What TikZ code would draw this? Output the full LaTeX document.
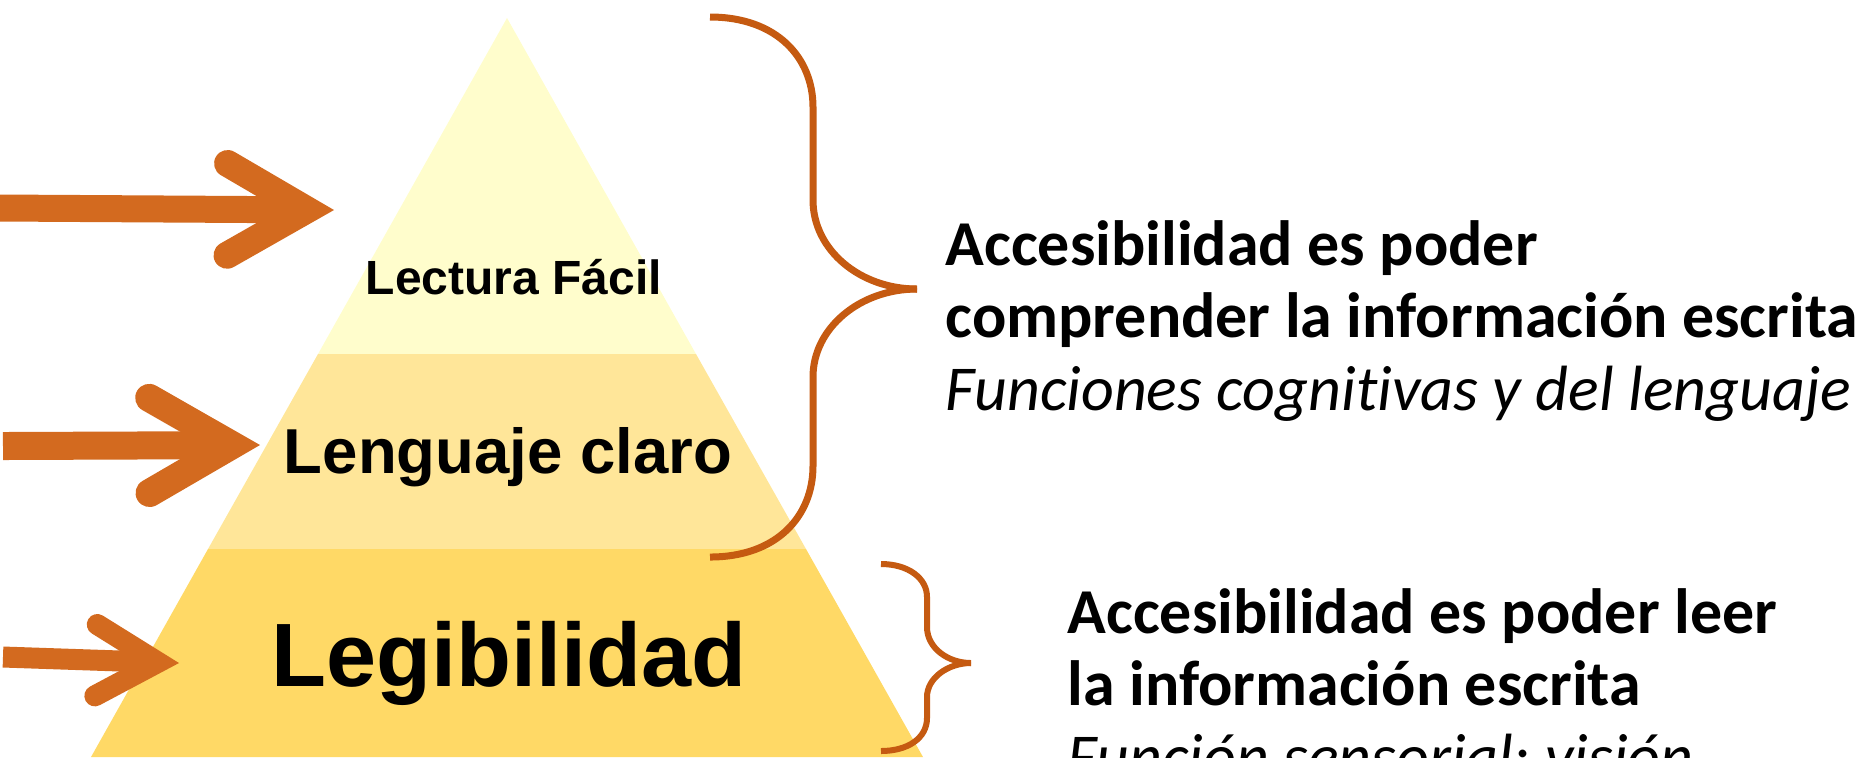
\documentclass[tikz,border=0pt]{standalone}
\usepackage{fontspec}
\setmainfont{Carlito}[Ligatures=NoCommon]
\newfontfamily\pyrfont{Liberation Sans}
\usetikzlibrary{arrows.meta}
\definecolor{arrowor}{HTML}{D36A1F}
\definecolor{braceor}{HTML}{C55A11}
\definecolor{lecturay}{HTML}{FFFDCC}
\definecolor{lenguajey}{HTML}{FFE699}
\definecolor{legiby}{HTML}{FFD966}
\frenchspacing
\tikzset{
  pointer/.style={draw=arrowor,line width=#1,
    -{Straight Barb[length=0pt 2.95,width=0pt 3.4,line cap=round,line join=miter]}},
  bracket/.style={draw=braceor,line width=#1},
  level/.style={anchor=base,inner sep=0pt,font=\pyrfont\bfseries\fontsize{#1}{#1}\selectfont},
  note/.style={anchor=base west,inner sep=0pt,align=left,
    font=\fontsize{18.2pt}{20.6pt}\selectfont}
}
\begin{document}
\begin{tikzpicture}[x=0.1mm,y=-0.1mm]
	\useasboundingbox (0,0) rectangle (1863,757);
	% pyramid
	\fill[lecturay] (507,18) -- (696,354) -- (318,354) -- cycle;
	\fill[lenguajey] (318,354) -- (696,354) -- (806,549) -- (208,549) -- cycle;
	\fill[legiby] (208,549) -- (806,549) -- (923,757) -- (91,757) -- cycle;
	\node[level=13.66pt] (lectura) at (514,294) {Lectura Fácil};
	\node[level=18.07pt] (lenguaje) at (508,473) {Lenguaje claro};
	\node[level=25.6pt] (legib) at (509,686) {Legibilidad};
	% arrows
	\coordinate (tailA) at (0,208);
	\coordinate (tipA) at (334,210);
	\coordinate (tailB) at (3,446);
	\coordinate (tipB) at (260,445);
	\coordinate (tailC) at (3,657);
	\coordinate (tipC) at (179,663);
	\draw[pointer=2.7mm] (tailA) -- (tipA);
	\draw[pointer=2.8mm] (tailB) -- (tipB);
	\draw[pointer=2.1mm] (tailC) -- (tipC);
	% braces
	\draw[bracket=0.7mm] (710,17) .. controls (777,17) and (813,58) .. (813,107) -- (813,200)
		.. controls (813,250) and (860,289) .. (917,289);
	\draw[bracket=0.7mm] (917,289) .. controls (860,289) and (813,328) .. (813,377) -- (813,466)
		.. controls (813,516) and (777,557) .. (710,557);
	\draw[bracket=0.6mm] (881,564) .. controls (908,564) and (927,578) .. (927,597) -- (927,627)
		.. controls (927,648) and (948,663) .. (971,663);
	\draw[bracket=0.6mm] (971,663) .. controls (948,663) and (927,678) .. (927,697) -- (927,718)
		.. controls (927,738) and (908,751) .. (881,751);
	% texts (base = last line)
	\node[note] (comprender) at (945,410) {\textbf{Accesibilidad es poder}\\
		\textbf{comprender la información escrita}\\
		\textit{Funciones cognitivas y del lenguaje}};
	\node[note] (leer) at (1067,778) {\textbf{Accesibilidad es poder leer}\\
		\textbf{la información escrita}\\
		\textit{Función sensorial: visión}};
\end{tikzpicture}
\end{document}
